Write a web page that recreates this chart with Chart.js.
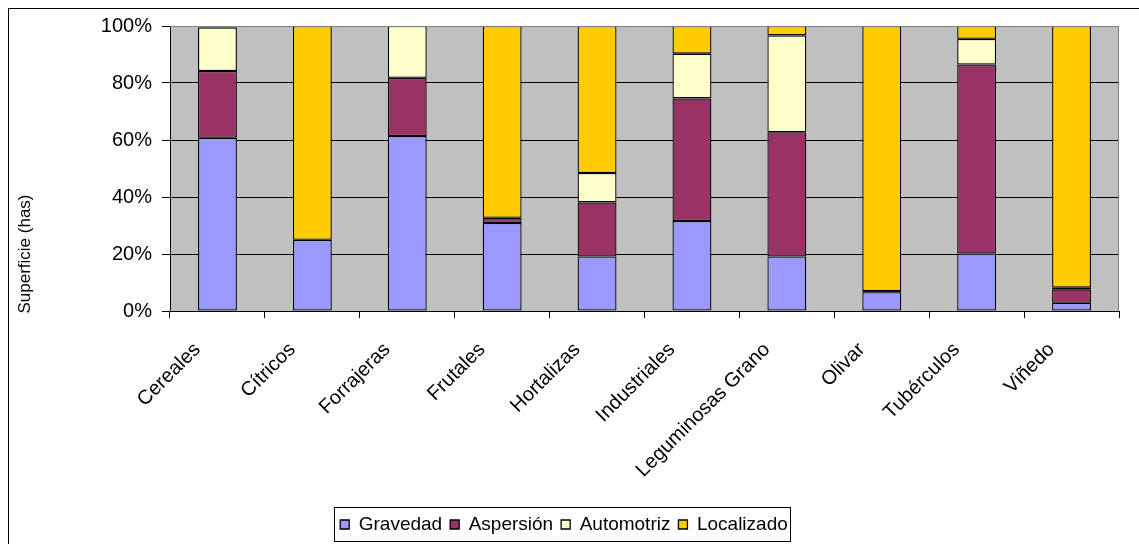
<!DOCTYPE html>
<html>
<head>
<meta charset="utf-8">
<script src="https://cdn.jsdelivr.net/npm/chart.js@4.4.1/dist/chart.umd.min.js"></script>
<style>
  html, body { margin: 0; padding: 0; background: #fff; }
  #wrap {
    position: absolute; left: 8px; top: 8px;
    width: 1130px; height: 535px;
    border-left: 1px solid #000; border-top: 1px solid #000;
  }
  canvas { display: block; }
</style>
</head>
<body>
<div id="wrap"><canvas id="chart" width="1130" height="535"></canvas></div>
<script>
const categories = ['Cereales', 'Cítricos', 'Forrajeras', 'Frutales', 'Hortalizas',
  'Industriales', 'Leguminosas Grano', 'Olivar', 'Tubérculos', 'Viñedo'];

// percentages of irrigated area per crop
const gravedad   = [60.8, 25.0, 61.4, 30.9, 19.1, 31.6, 19.1, 6.6, 20.2, 2.9];
const aspersion  = [23.4, 0, 20.4, 1.8, 19.0, 43.0, 43.6, 0.4, 66.3, 4.7];
const automotriz = [15.3, 0, 18.2, 0, 10.3, 15.7, 34.0, 0, 9.0, 0.6];
const localizado = [0.5, 75.0, 0, 67.3, 51.6, 9.7, 3.3, 93.0, 4.5, 91.8];

const yTicks = [0, 20, 40, 60, 80, 100];

const FONT = 'Liberation Sans, Arial, sans-serif';

// grey plot background + grey top/right frame
const plotBg = {
  id: 'plotBg',
  beforeDraw(chart) {
    const { ctx, chartArea: a } = chart;
    ctx.save();
    ctx.fillStyle = '#c0c0c0';
    ctx.fillRect(a.left, a.top, a.right - a.left, a.bottom - a.top);
    ctx.restore();
  },
  afterDatasetsDraw(chart) {
    const { ctx, chartArea: a } = chart;
    ctx.save();
    ctx.strokeStyle = '#808080';
    ctx.lineWidth = 1;
    ctx.beginPath();
    ctx.moveTo(a.left, a.top + 0.5);
    ctx.lineTo(a.right - 0.5, a.top + 0.5);
    ctx.lineTo(a.right - 0.5, a.bottom);
    ctx.stroke();
    ctx.restore();
  }
};

// y title sits lower than the plot centre, like the original
const yTitle = {
  id: 'yTitle',
  afterDraw(chart) {
    const ctx = chart.ctx;
    ctx.save();
    ctx.translate(16, 245);
    ctx.rotate(-Math.PI / 2);
    ctx.font = '17px ' + FONT;
    ctx.fillStyle = '#000';
    ctx.textAlign = 'center';
    ctx.textBaseline = 'middle';
    ctx.fillText('Superficie (has)', 0, 0);
    ctx.restore();
  }
};

// frame around the legend
const legendBox = {
  id: 'legendBox',
  afterDraw(chart) {
    const boxes = chart.legend && chart.legend.legendHitBoxes;
    if (!boxes || !boxes.length) return;
    const left = Math.min(...boxes.map(b => b.left)) - 6;
    const right = Math.max(...boxes.map(b => b.left + b.width)) + 2;
    const top = boxes[0].top - 8;
    const bottom = boxes[0].top + boxes[0].height + 7;
    const ctx = chart.ctx;
    ctx.save();
    ctx.strokeStyle = '#000';
    ctx.lineWidth = 1;
    ctx.strokeRect(Math.round(left) + 0.5, Math.round(top) + 0.5,
      Math.round(right - left), Math.round(bottom - top));
    ctx.restore();
  }
};

function ds(label, data, color) {
  return {
    label, data,
    backgroundColor: color,
    borderColor: '#000',
    borderWidth: 1.3,
    borderSkipped: false,
    barPercentage: 0.41,
    categoryPercentage: 1.0
  };
}

new Chart(document.getElementById('chart'), {
  type: 'bar',
  data: {
    labels: categories,
    datasets: [
      ds('Gravedad', gravedad, '#9999ff'),
      ds('Aspersión', aspersion, '#993366'),
      ds('Automotriz', automotriz, '#ffffcc'),
      ds('Localizado', localizado, '#ffcc00')
    ]
  },
  options: {
    responsive: false,
    animation: false,
    layout: { padding: { top: 17, right: 20, left: 0, bottom: 0 } },
    plugins: {
      legend: {
        position: 'bottom',
        labels: {
          boxWidth: 9, boxHeight: 9,
          padding: 8,
          color: '#000',
          font: { family: FONT, size: 19 }
        }
      },
      tooltip: { enabled: false }
    },
    scales: {
      x: {
        stacked: true,
        grid: { offset: true, drawOnChartArea: false, color: '#000', tickLength: 7 },
        border: { color: '#000' },
        ticks: {
          color: '#000', font: { family: FONT, size: 20 },
          maxRotation: 45, minRotation: 45, padding: 20, labelOffset: -20
        },
        afterFit(scale) {
          scale.height = 196;
          scale.paddingLeft = 0;
          scale.paddingRight = 0;
        }
      },
      y: {
        stacked: true,
        min: 0, max: 100,
        afterBuildTicks(scale) { scale.ticks = yTicks.map(v => ({ value: v })); },
        grid: { color: '#000', tickLength: 8 },
        border: { color: '#000' },
        ticks: {
          color: '#000', font: { family: FONT, size: 20 }, padding: 10,
          callback: v => v + '%'
        },
        afterFit(scale) {
          scale.width = 161;
          scale.paddingTop = 0;
          scale.paddingBottom = 0;
        }
      }
    }
  },
  plugins: [plotBg, yTitle, legendBox]
});
</script>
</body>
</html>
